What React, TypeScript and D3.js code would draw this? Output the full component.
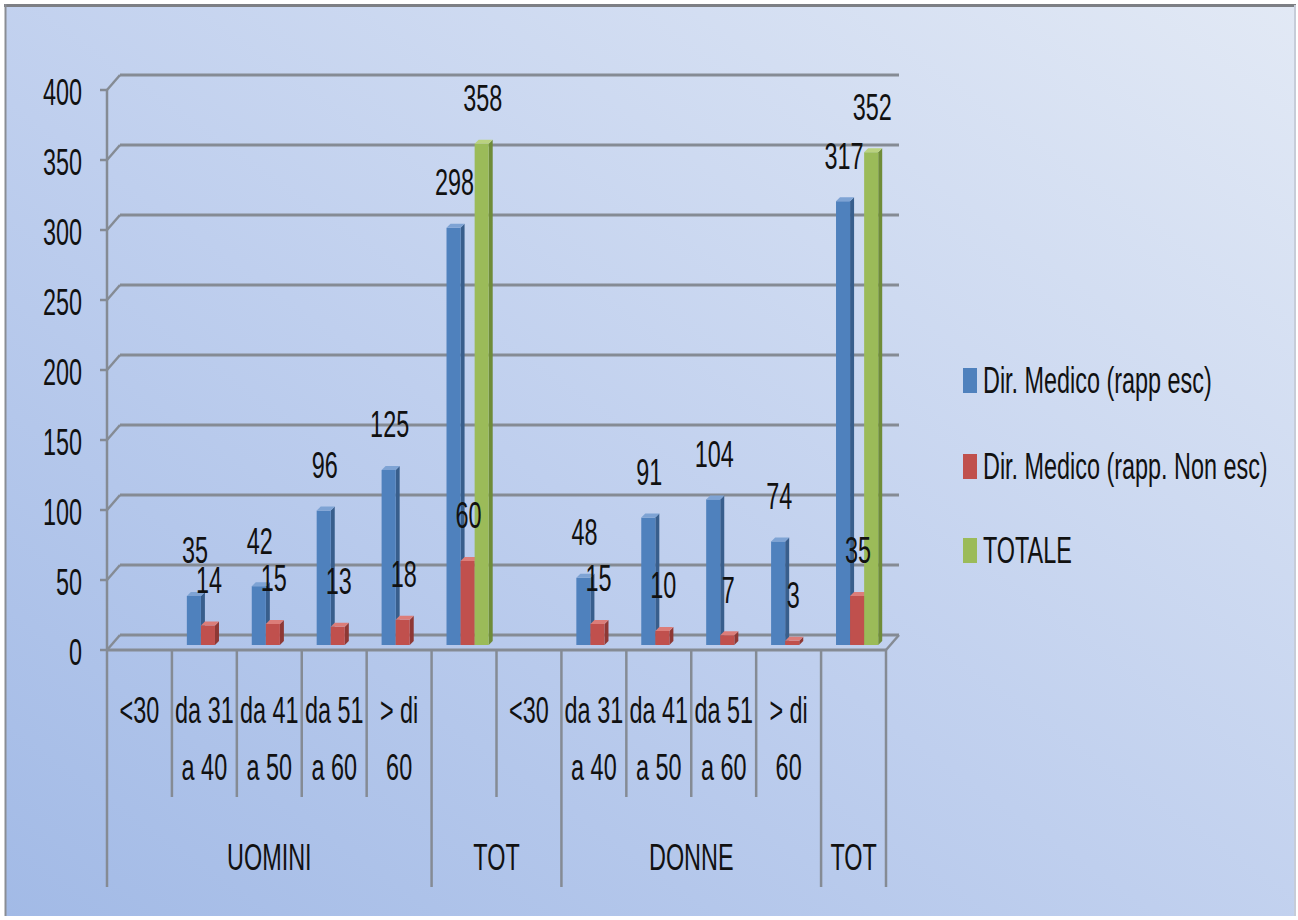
import React from "react";
import * as d3 from "d3";

// Age bands (first axis level); each entry is split into the lines drawn under the axis
const ageBands: string[][] = [
  ["<30"],
  ["da 31", "a 40"],
  ["da 41", "a 50"],
  ["da 51", "a 60"],
  ["> di", "60"],
  [""],
  ["<30"],
  ["da 31", "a 40"],
  ["da 41", "a 50"],
  ["da 51", "a 60"],
  ["> di", "60"],
  [""],
];

// Second axis level: group name and how many age bands it covers
const groupNames = ["UOMINI", "TOT", "DONNE", "TOT"];
const groupSpans = [5, 2, 4, 1];

const seriesNames = [
  "Dir. Medico (rapp esc)",
  "Dir. Medico (rapp. Non esc)",
  "TOTALE",
];
const rappEsc: (number | null)[] = [null, 35, 42, 96, 125, 298, null, 48, 91, 104, 74, 317];
const rappNonEsc: (number | null)[] = [null, 14, 15, 13, 18, 60, null, 15, 10, 7, 3, 35];
const totale: (number | null)[] = [null, null, null, null, null, 358, null, null, null, null, null, 352];

const yTicks = [0, 50, 100, 150, 200, 250, 300, 350, 400];

const W = 1298;
const H = 920;

const palette = [
  { front: "#4f81bd", top: "#7ea3d4", side: "#385e8c" },
  { front: "#c0504d", top: "#dc7d79", side: "#8e3835" },
  { front: "#9bbb59", top: "#bad27f", side: "#6f8c38" },
];

const FONT = "'Liberation Sans', Arial, sans-serif";
const TEXT_SX = 0.9;
const TEXT_SY = 1.45;

type TProps = {
  x: number;
  y: number;
  size?: number;
  anchor?: "start" | "middle" | "end";
  children: React.ReactNode;
};

// Text with the tall, narrow proportions used throughout the chart; y is the visual centre
function Txt({ x, y, size = 26, anchor = "middle", children }: TProps) {
  const cap = size * 0.716 * TEXT_SY;
  return (
    <text
      transform={`translate(${x},${y + cap / 2}) scale(${TEXT_SX},${TEXT_SY})`}
      fontFamily={FONT}
      fontSize={size}
      textAnchor={anchor}
      fill="#111"
    >
      {children}
    </text>
  );
}

export default function App() {
  const x0 = 107;
  const x1 = 886;
  // depth offsets of the 3-D box
  const depthDx = 13;
  const depthDy = -15;

  const cats = d3.range(ageBands.length);
  const xBand = d3.scaleBand<number>().domain(cats).range([x0, x1]).padding(0);
  const bw = xBand.bandwidth();
  const xSeries = d3
    .scaleBand<number>()
    .domain([0, 1, 2])
    .range([bw * 0.23, bw * 0.88])
    .padding(0);

  // front axis plane, back wall plane, and the mid-depth plane where the bars stand
  const yFront = d3.scaleLinear().domain([0, 400]).range([650, 90]);
  const yBack = d3.scaleLinear().domain([0, 400]).range([650 + depthDy, 90 + depthDy]);
  const yBar = d3.scaleLinear().domain([0, 400]).range([645, 85]);

  const barD = 4;
  const seriesData = [rappEsc, rappNonEsc, totale];

  const grid = "#858b94";

  // group boundaries
  const groupEdges: number[] = [0];
  groupSpans.forEach((s, i) => groupEdges.push(groupEdges[i] + s));

  const bars: React.ReactNode[] = [];
  const labels: React.ReactNode[] = [];
  seriesData.forEach((vals, si) => {
    vals.forEach((v, ci) => {
      if (v == null) return;
      const bx = (xBand(ci) as number) + (xSeries(si) as number);
      const w = xSeries.bandwidth();
      const base = yBar(0);
      const top = yBar(v);
      const c = palette[si];
      bars.push(
        <g key={`b${si}-${ci}`}>
          <polygon
            points={`${bx + w},${top} ${bx + w + barD},${top - barD} ${bx + w + barD},${base - barD} ${bx + w},${base}`}
            fill={c.side}
          />
          <rect x={bx} y={top} width={w} height={base - top} fill={c.front} />
          <polygon
            points={`${bx},${top} ${bx + w},${top} ${bx + w + barD},${top - barD} ${bx + barD},${top - barD}`}
            fill={c.top}
          />
        </g>
      );
      labels.push(
        <Txt key={`l${si}-${ci}`} x={bx + w / 2 + 1} y={top - 46}>
          {v}
        </Txt>
      );
    });
  });

  return (
    <svg
      width={W}
      height={H}
      style={{ position: "absolute", left: 0, top: 0 }}
      xmlns="http://www.w3.org/2000/svg"
    >
      <defs>
        <linearGradient id="bg" x1="0" y1="1" x2="1" y2="0">
          <stop offset="0" stopColor="#a2bae6" />
          <stop offset="0.45" stopColor="#bfcfee" />
          <stop offset="1" stopColor="#e2e9f5" />
        </linearGradient>
      </defs>
      <rect x={0} y={0} width={W} height={H} fill="#ffffff" />
      <rect x={5} y={5} width={1290} height={911} fill="url(#bg)" />
      <line x1={4} y1={5.5} x2={1296} y2={5.5} stroke="#7d7f84" strokeWidth={3} />
      <line x1={5.5} y1={4} x2={5.5} y2={916} stroke="#8a8d94" strokeWidth={2} />
      <line x1={1295} y1={5} x2={1295} y2={916} stroke="#c6ccd8" strokeWidth={2} />

      {/* back wall gridlines and side wall diagonals */}
      {yTicks.map((t) => (
        <g key={`g${t}`}>
          <line
            x1={x0 + depthDx}
            x2={x1 + depthDx}
            y1={yBack(t)}
            y2={yBack(t)}
            stroke={grid}
            strokeWidth={3}
          />
          <line
            x1={x0}
            y1={yFront(t)}
            x2={x0 + depthDx}
            y2={yBack(t)}
            stroke={grid}
            strokeWidth={2.5}
          />
          <line x1={x0 - 7} x2={x0} y1={yFront(t)} y2={yFront(t)} stroke={grid} strokeWidth={2.5} />
        </g>
      ))}

      {/* vertical axis */}
      <line x1={x0} x2={x0} y1={yFront(400)} y2={yFront(0)} stroke={grid} strokeWidth={2.5} />

      {/* floor right edge */}
      <line x1={x1} y1={yFront(0)} x2={x1 + depthDx} y2={yBack(0)} stroke={grid} strokeWidth={2.5} />

      {bars}

      <line x1={x0} x2={x1} y1={yFront(0)} y2={yFront(0)} stroke={grid} strokeWidth={3} />

      {/* category dividers: short ones between age bands, long ones between groups */}
      {d3.range(ageBands.length + 1).map((i) => {
        const isGroupEdge = groupEdges.includes(i);
        const xx = i === ageBands.length ? x1 : (xBand(i) as number);
        return (
          <line
            key={`d${i}`}
            x1={xx}
            x2={xx}
            y1={yFront(0)}
            y2={isGroupEdge ? 887 : 797}
            stroke={grid}
            strokeWidth={2.5}
          />
        );
      })}

      {/* y tick labels */}
      {yTicks.map((t) => (
        <Txt key={`t${t}`} x={82} y={yFront(t) + 2} anchor="end">
          {t}
        </Txt>
      ))}

      {/* age band labels */}
      {ageBands.map((lines, i) => {
        const cx = (xBand(i) as number) + bw / 2;
        return lines.map((ln, j) => (
          <Txt key={`a${i}-${j}`} x={cx} y={710 + j * 57}>
            {ln}
          </Txt>
        ));
      })}

      {/* group labels */}
      {groupNames.map((g, i) => {
        const a = xBand(groupEdges[i]) as number;
        const b = groupEdges[i + 1] >= ageBands.length ? x1 : (xBand(groupEdges[i + 1]) as number);
        return (
          <Txt key={`gr${i}`} x={(a + b) / 2} y={857}>
            {g}
          </Txt>
        );
      })}

      {labels}

      {/* legend */}
      {seriesNames.map((s, i) => {
        const cy = [380, 466, 550][i];
        return (
          <g key={`lg${i}`}>
            <rect x={963} y={cy - 12} width={14} height={25} fill={palette[i].front} />
            <Txt x={983} y={cy} anchor="start">
              {s}
            </Txt>
          </g>
        );
      })}
    </svg>
  );
}
